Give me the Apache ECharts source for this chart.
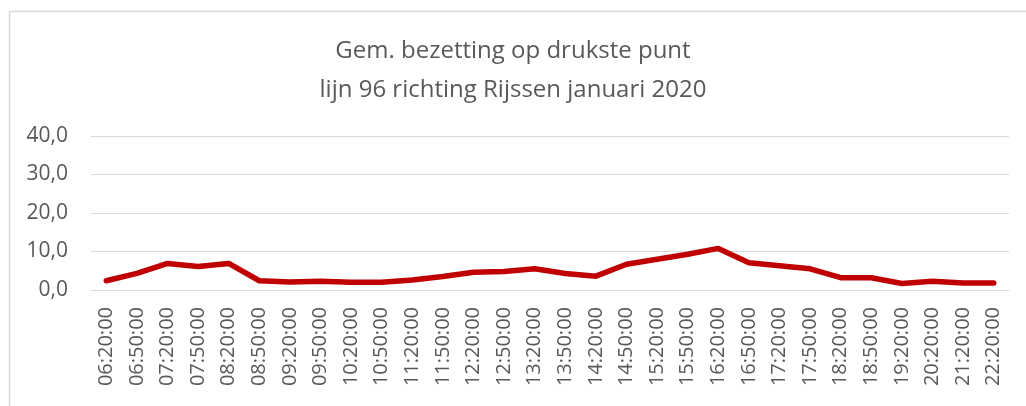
<!DOCTYPE html>
<html>
<head>
<meta charset="utf-8">
<script src="https://cdn.jsdelivr.net/npm/echarts@6/dist/echarts.min.js"></script>
<style>
  html, body { margin: 0; padding: 0; background: #fff; }
  #chart { width: 1026px; height: 406px; }
</style>
</head>
<body>
<div id="chart"></div>
<script>
// categorieën (vertrektijden)
const times = [
  '06:20:00', '06:50:00', '07:20:00', '07:50:00', '08:20:00', '08:50:00',
  '09:20:00', '09:50:00', '10:20:00', '10:50:00', '11:20:00', '11:50:00',
  '12:20:00', '12:50:00', '13:20:00', '13:50:00', '14:20:00', '14:50:00',
  '15:20:00', '15:50:00', '16:20:00', '16:50:00', '17:20:00', '17:50:00',
  '18:20:00', '18:50:00', '19:20:00', '20:20:00', '21:20:00', '22:20:00'
]
// gemiddelde bezetting
const bezetting = [
  2.4, 4.3, 6.9, 6.1, 6.9, 2.4, 2.1, 2.3, 2.0, 2.0,
  2.6, 3.5, 4.6, 4.8, 5.5, 4.3, 3.6, 6.7, 8.0, 9.3,
  10.8, 7.1, 6.3, 5.5, 3.2, 3.2, 1.7, 2.3, 1.8, 1.8
]
const yTicks = [0, 10, 20, 30, 40]

const fontFamily = 'Open Sans, Noto Sans, sans-serif'
const textColor = '#595959'

const chart = echarts.init(document.getElementById('chart'))
chart.setOption({
  animation: false,
  graphic: [
    {
      type: 'rect',
      shape: { x: 9.5, y: 11.5, width: 1030, height: 410 },
      style: { fill: 'none', stroke: '#d9d9d9', lineWidth: 1.5 },
      silent: true,
    },
  ],
  title: {
    text: 'Gem. bezetting op drukste punt\nlijn 96 richting Rijssen januari 2020',
    left: 'center',
    top: 27,
    textStyle: {
      color: textColor,
      fontFamily: fontFamily,
      fontWeight: 'normal',
      fontSize: 24,
      lineHeight: 39,
    },
  },
  grid: {
    left: 91,
    right: 17,
    top: 136,
    bottom: 116,
  },
  xAxis: {
    type: 'category',
    data: times,
    boundaryGap: true,
    axisLine: { lineStyle: { color: '#d9d9d9', width: 1 } },
    axisTick: { show: false },
    axisLabel: {
      interval: 0,
      rotate: 90,
      margin: 17,
      color: textColor,
      fontFamily: fontFamily,
      fontSize: 20,
    },
  },
  yAxis: {
    type: 'value',
    min: yTicks[0],
    max: yTicks[yTicks.length - 1],
    interval: 10,
    axisLine: { show: false },
    axisTick: { show: false },
    splitLine: { lineStyle: { color: '#d9d9d9', width: 1 } },
    axisLabel: {
      margin: 23,
      color: textColor,
      fontFamily: fontFamily,
      fontSize: 21,
      formatter: (v) => v.toFixed(1).replace('.', ','),
    },
  },
  series: [
    {
      type: 'line',
      data: bezetting,
      symbol: 'none',
      lineStyle: { color: '#c00000', width: 5.5, cap: 'round', join: 'round' },
    },
  ],
})
</script>
</body>
</html>
